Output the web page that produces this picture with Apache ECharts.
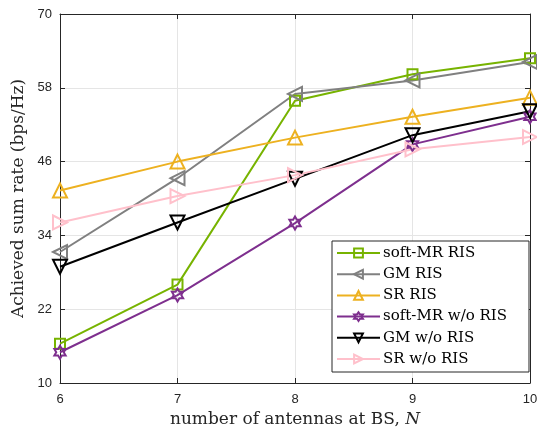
<!DOCTYPE html>
<html>
<head>
<meta charset="utf-8">
<script src="https://cdn.jsdelivr.net/npm/echarts@6/dist/echarts.min.js"></script>
<style>
  html, body { margin: 0; padding: 0; background: #fff; }
  #chart { width: 537px; height: 429px; }
</style>
</head>
<body>
<div id="chart"></div>
<script>
// number of antennas at BS
const antennas = [6, 7, 8, 9, 10]
const yTicks = [10, 22, 34, 46, 58, 70]

const softMrRis = [16.4, 26.0, 55.9, 60.2, 62.8]
const gmRis = [31.3, 43.3, 57.0, 59.2, 62.2]
const srRis = [41.3, 46.0, 49.9, 53.3, 56.4]
const softMrNoRis = [15.0, 24.3, 36.0, 48.8, 53.3]
const gmNoRis = [28.9, 36.1, 43.2, 50.3, 54.2]
const srNoRis = [36.1, 40.4, 43.8, 48.0, 50.0]

const names = ['soft-MR RIS', 'GM RIS', 'SR RIS', 'soft-MR w/o RIS', 'GM w/o RIS', 'SR w/o RIS']

const hexagram = 'path://M50,0 L64.4,25 L93.3,25 L78.9,50 L93.3,75 L64.4,75 L50,100 L35.6,75 L6.7,75 L21.1,50 L6.7,25 L35.6,25 Z'

const serif = 'DejaVu Serif, serif'
const tickFont = { fontFamily: 'Liberation Sans, Arial, sans-serif', fontSize: 13, color: '#262626' }
const labelFont = { fontFamily: serif, fontSize: 17, color: '#262626' }

function makeSeries(name, values, color, symbol, size, rotate) {
  return {
    name: name,
    type: 'line',
    data: antennas.map((x, i) => [x, values[i]]),
    symbol: symbol,
    symbolSize: size,
    symbolRotate: rotate,
    symbolKeepAspect: true,
    showAllSymbol: true,
    lineStyle: { color: color, width: 2 },
    itemStyle: { color: 'rgba(255,255,255,0)', borderColor: color, borderWidth: 2 },
    emphasis: { disabled: true },
    z: 3,
  }
}

const chart = echarts.init(document.getElementById('chart'), null, { renderer: 'canvas' })

const axisLine = { show: true, lineStyle: { color: '#262626', width: 1 } }
const axisTick = { show: true, inside: true, length: 5, lineStyle: { color: '#262626' } }

chart.setOption({
  animation: false,
  backgroundColor: '#fff',
  grid: { left: 60, right: 7, top: 14, bottom: 46, outerBoundsMode: 'none', containLabel: false },
  legend: {
    orient: 'vertical',
    left: 332,
    top: 241,
    backgroundColor: '#fff',
    borderColor: '#262626',
    borderWidth: 1,
    borderRadius: 0,
    padding: [3, 22, 4, 4],
    itemGap: 3.2,
    itemWidth: 43,
    itemHeight: 11,
    textStyle: { fontFamily: serif, fontSize: 15, color: '#000', lineHeight: 18, padding: [0, 0, 0, -2] },
    data: names,
  },
  xAxis: [
    {
      type: 'value',
      min: 6,
      max: 10,
      interval: 1,
      name: 'number of antennas at BS, {i|N}',
      nameLocation: 'middle',
      nameGap: 27,
      nameTextStyle: Object.assign({}, labelFont, { rich: { i: Object.assign({}, labelFont, { fontStyle: 'italic' }) } }),
      axisLine: axisLine,
      axisTick: axisTick,
      axisLabel: Object.assign({ margin: 10 }, tickFont),
      splitLine: { show: true, lineStyle: { color: '#e5e5e5' } },
    },
    {
      type: 'value',
      position: 'top',
      min: 6,
      max: 10,
      interval: 1,
      axisLine: axisLine,
      axisTick: axisTick,
      axisLabel: { show: false },
      splitLine: { show: false },
    },
  ],
  yAxis: [
    {
      type: 'value',
      min: yTicks[0],
      max: yTicks[yTicks.length - 1],
      interval: yTicks[1] - yTicks[0],
      name: 'Achieved sum rate (bps/Hz)',
      nameLocation: 'middle',
      nameGap: 26,
      nameTextStyle: labelFont,
      axisLine: axisLine,
      axisTick: axisTick,
      axisLabel: Object.assign({ margin: 8 }, tickFont),
      splitLine: { show: true, lineStyle: { color: '#e5e5e5' } },
    },
    {
      type: 'value',
      position: 'right',
      min: yTicks[0],
      max: yTicks[yTicks.length - 1],
      interval: yTicks[1] - yTicks[0],
      axisLine: axisLine,
      axisTick: axisTick,
      axisLabel: { show: false },
      splitLine: { show: false },
    },
  ],
  series: [
    makeSeries(names[0], softMrRis, '#77b300', 'rect', 10, 0),
    makeSeries(names[1], gmRis, '#808080', 'triangle', 14, 90),
    makeSeries(names[2], srRis, '#edb120', 'triangle', 14, 0),
    makeSeries(names[3], softMrNoRis, '#7e2f8e', hexagram, 13, 0),
    makeSeries(names[4], gmNoRis, '#000000', 'triangle', 14, 180),
    makeSeries(names[5], srNoRis, '#ffc0cb', 'triangle', 14, -90),
  ],
})
</script>
</body>
</html>
